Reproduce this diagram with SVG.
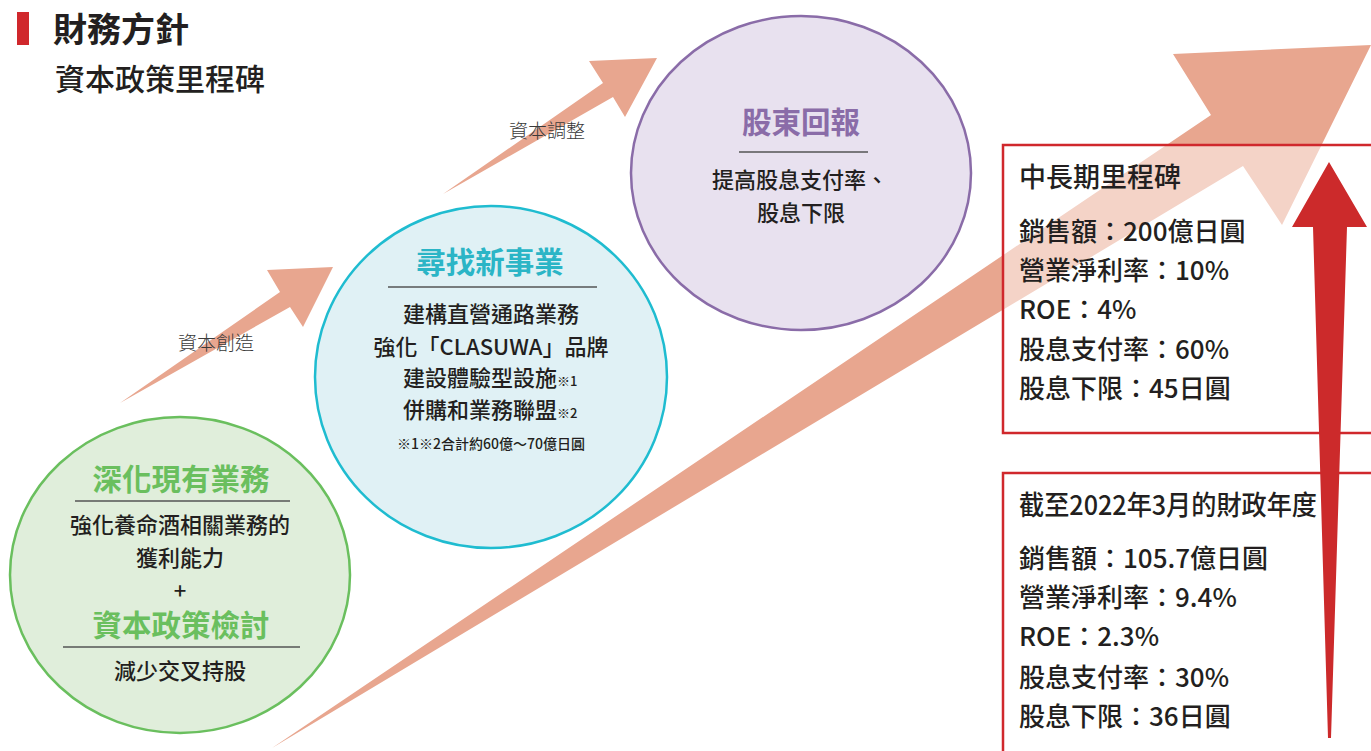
<svg xmlns="http://www.w3.org/2000/svg" width="1371" height="751" viewBox="0 0 1371 751">
<style>
text{font-family:"Noto Sans CJK TC","Liberation Sans",sans-serif;fill:#231f20}
.mid{text-anchor:middle}
.body{font-size:22px;font-weight:500}
.ctitle{font-size:29.5px;font-weight:700}
.lbl{font-size:19px;font-weight:300;fill:#3a3a3a}
.btitle{font-size:27px;font-weight:500}
.bbody{font-size:26px;font-weight:500}
.sep{stroke:#555;stroke-width:1.5}
.salmon{fill:#e8a68f}
.box{fill:#fff;fill-opacity:0.5;stroke:#d0282c;stroke-width:2.5}
</style>
<rect width="1371" height="751" fill="#fff"/>
<g id="title">
<rect x="17" y="12" width="12" height="33" fill="#d0282c"/>
<text x="53" y="42" font-size="34" font-weight="700">財務方針</text>
<text x="55" y="90" font-size="30" font-weight="500">資本政策里程碑</text>
</g>
<g id="connectors">
<polygon class="salmon" points="272,748 1211,115 1173,54 1371,45 1282,225 1243,166"/>
<polygon class="salmon" points="120,403 280,292 267,270 333,267 303,327 290,307"/>
<polygon class="salmon" points="443,194 603,83 589,61 657,58 625,117 613,97"/>
<text class="lbl" x="178" y="350">資本創造</text>
<text class="lbl" x="509" y="138">資本調整</text>
</g>
<g id="node-existing">
<ellipse cx="180" cy="575" rx="170" ry="158" fill="#e0eedb" stroke="#6abf5e" stroke-width="2.5"/>
<text class="ctitle mid" x="181" y="490" style="fill:#6abf5e">深化現有業務</text>
<line class="sep" x1="75" y1="501" x2="290" y2="501"/>
<text class="body mid" x="180" y="533">強化養命酒相關業務的</text>
<text class="body mid" x="180" y="566">獲利能力</text>
<text class="body mid" x="180" y="599">+</text>
<text class="ctitle mid" x="181" y="636" style="fill:#6abf5e">資本政策檢討</text>
<line class="sep" x1="63" y1="647" x2="300" y2="647"/>
<text class="body mid" x="180" y="679">減少交叉持股</text>
</g>
<g id="node-new">
<ellipse cx="491" cy="377" rx="176" ry="171" fill="#e0f1f5" stroke="#1fbcd0" stroke-width="2.5"/>
<text class="ctitle mid" x="490" y="273" style="fill:#2bb5c6">尋找新事業</text>
<line class="sep" x1="388" y1="287" x2="597" y2="287"/>
<text class="body mid" x="491" y="322">建構直營通路業務</text>
<text class="body mid" x="491" y="355">強化「CLASUWA」品牌</text>
<text class="body" x="403" y="386">建設體驗型設施<tspan font-size="13">※1</tspan></text>
<text class="body" x="403" y="418">併購和業務聯盟<tspan font-size="13">※2</tspan></text>
<text class="mid" x="491" y="449" font-size="14" font-weight="500">※1※2合計約60億～70億日圓</text>
</g>
<g id="node-return">
<ellipse cx="801" cy="173" rx="170" ry="157" fill="#e8e1ef" stroke="#8a6ca8" stroke-width="2.5"/>
<text class="ctitle mid" x="801" y="133" style="fill:#8a6ca8">股東回報</text>
<line class="sep" x1="739" y1="152" x2="868" y2="152"/>
<text class="body mid" x="800" y="188">提高股息支付率、</text>
<text class="body mid" x="801" y="221">股息下限</text>
</g>
<g id="node-target">
<rect class="box" x="1003" y="145" width="400" height="288"/>
<text class="btitle" x="1019" y="187">中長期里程碑</text>
<text class="bbody" x="1019" y="241">銷售額：200億日圓</text>
<text class="bbody" x="1019" y="280">營業淨利率：10%</text>
<text class="bbody" x="1019" y="319">ROE：4%</text>
<text class="bbody" x="1019" y="359">股息支付率：60%</text>
<text class="bbody" x="1019" y="398">股息下限：45日圓</text>
</g>
<g id="node-current">
<rect class="box" x="1003" y="473" width="400" height="300"/>
<text class="btitle" x="1019" y="515" font-size="26" textLength="298" lengthAdjust="spacingAndGlyphs">截至2022年3月的財政年度</text>
<text class="bbody" x="1019" y="568">銷售額：105.7億日圓</text>
<text class="bbody" x="1019" y="607">營業淨利率：9.4%</text>
<text class="bbody" x="1019" y="646">ROE：2.3%</text>
<text class="bbody" x="1019" y="687">股息支付率：30%</text>
<text class="bbody" x="1019" y="726">股息下限：36日圓</text>
</g>
<g id="growth-arrow">
<polygon points="1329,162 1367,227 1347,227 1331,738 1328,738 1313,227 1292,227" fill="#cc2a2b"/>
</g>
</svg>
